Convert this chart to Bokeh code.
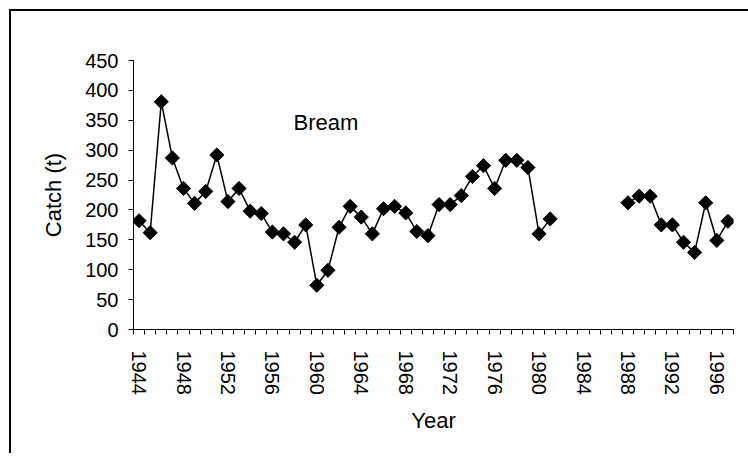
import numpy as np
from bokeh.plotting import figure
from bokeh.models import Range1d, FixedTicker, Label, ColumnDataSource
from bokeh.embed import file_html
from bokeh.resources import INLINE

# ---- data ----
years = [1944, 1945, 1946, 1947, 1948, 1949, 1950, 1951, 1952, 1953,
         1954, 1955, 1956, 1957, 1958, 1959, 1960, 1961, 1962, 1963,
         1964, 1965, 1966, 1967, 1968, 1969, 1970, 1971, 1972, 1973,
         1974, 1975, 1976, 1977, 1978, 1979, 1980, 1981,
         1988, 1989, 1990, 1991, 1992, 1993, 1994, 1995, 1996, 1997]
catch = [182, 162, 381, 287, 236, 211, 231, 292, 214, 236,
         198, 194, 163, 160, 146, 175, 74, 99, 171, 206,
         188, 160, 202, 206, 195, 164, 157, 209, 209, 224,
         256, 274, 236, 283, 283, 271, 160, 185,
         212, 223, 223, 175, 175, 146, 129, 212, 149, 181]
year_ticks = [1944, 1948, 1952, 1956, 1960, 1964, 1968, 1972, 1976, 1980,
              1984, 1988, 1992, 1996]
catch_ticks = [0, 50, 100, 150, 200, 250, 300, 350, 400, 450]
species = "Bream"

FONT = "Liberation Sans"

# line with breaks where years are missing
lx, ly = [], []
for i, (yr, c) in enumerate(zip(years, catch)):
    if i > 0 and yr - years[i - 1] > 1:
        lx.append(np.nan)
        ly.append(np.nan)
    lx.append(yr)
    ly.append(c)

p = figure(frame_width=600, frame_height=269,
           min_border_left=122, min_border_right=20,
           min_border_top=49, min_border_bottom=126,
           x_range=Range1d(years[0] - 0.5, years[-1] + 0.5),
           y_range=Range1d(catch_ticks[0], catch_ticks[-1]),
           output_backend="svg", toolbar_location=None)
p.styles = {"margin-top": "11px", "margin-left": "11px",
            "box-shadow": "-2px -2px 0 0 black"}
p.outline_line_color = None
p.grid.visible = False
p.background_fill_color = "white"
p.border_fill_color = "white"

p.line(lx, ly, line_color="black", line_width=1.5)
src = ColumnDataSource(dict(x=years, y=catch))
p.scatter("x", "y", source=src, marker="square", size=10, angle=np.pi / 4,
          fill_color="black", line_color="black")

# x axis: category-style ticks between years, labels at year centres
xa = p.xaxis[0]
boundaries = [y - 0.5 for y in range(years[0], years[-1] + 2)]
xa.ticker = FixedTicker(ticks=year_ticks, minor_ticks=boundaries)
xa.major_tick_out = 0
xa.major_tick_in = 0
xa.minor_tick_out = 5
xa.minor_tick_in = 0
xa.minor_tick_line_color = "black"
xa.major_label_orientation = "vertical"
xa.major_label_standoff = 16
xa.major_label_text_font = FONT
xa.major_label_text_font_size = "20px"
xa.major_label_text_color = "black"
xa.axis_label = "Year"
xa.axis_label_text_font = FONT
xa.axis_label_text_font_size = "22px"
xa.axis_label_text_font_style = "normal"
xa.axis_label_text_color = "black"
xa.axis_label_standoff = 10
xa.axis_line_color = "black"

ya = p.yaxis[0]
ya.ticker = FixedTicker(ticks=catch_ticks)
ya.major_tick_out = 5
ya.major_tick_in = 0
ya.minor_tick_out = 0
ya.minor_tick_in = 0
ya.major_label_standoff = 10
ya.major_label_text_font = FONT
ya.major_label_text_font_size = "20px"
ya.major_label_text_color = "black"
ya.axis_label = "Catch (t)"
ya.axis_label_text_font = FONT
ya.axis_label_text_font_size = "22px"
ya.axis_label_text_font_style = "normal"
ya.axis_label_text_color = "black"
ya.axis_label_standoff = 16
ya.axis_line_color = "black"

p.add_layout(Label(x=1957.9, y=346, text=species, text_font=FONT,
                   text_font_size="22px", text_color="black",
                   text_baseline="alphabetic", text_align="left"))

open("out.html", "w").write(file_html(p, INLINE))
